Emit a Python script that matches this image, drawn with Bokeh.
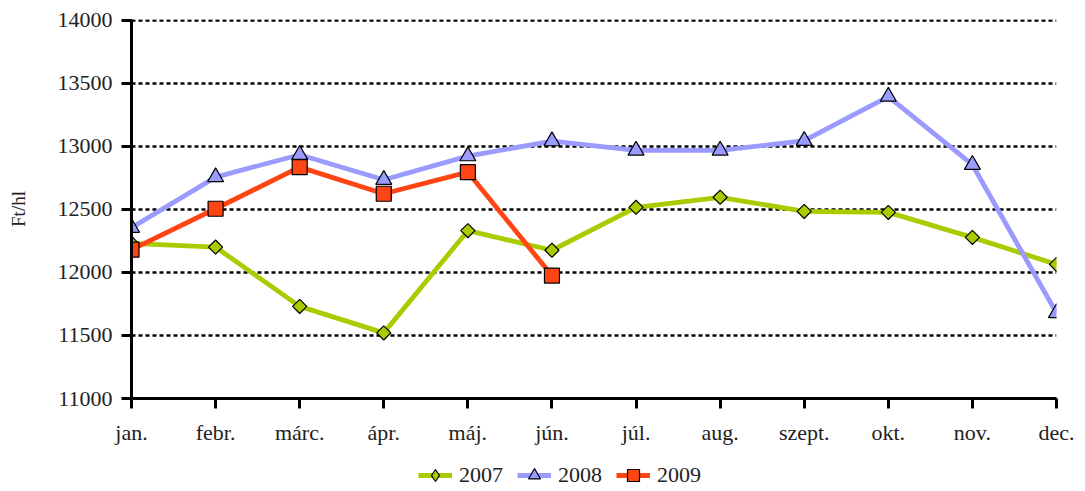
import numpy as np
from bokeh.plotting import figure
from bokeh.layouts import column
from bokeh.models import Legend, LegendItem, FixedTicker, Range1d
from bokeh.embed import file_html
from bokeh.resources import INLINE

months = ["jan.", "febr.", "márc.", "ápr.", "máj.", "jún.", "júl.", "aug.", "szept.", "okt.", "nov.", "dec."]
s2007 = [12230, 12200, 11730, 11520, 12330, 12175, 12515, 12595, 12483, 12475, 12277, 12063]
s2008 = [12354, 12755, 12932, 12734, 12921, 13040, 12966, 12966, 13043, 13393, 12853, 11678]
s2009 = [12180, 12504, 12834, 12623, 12794, 11974]
series_names = ["2007", "2008", "2009"]
yticks = [11000, 11500, 12000, 12500, 13000, 13500, 14000]

FONT = "Liberation Serif"
TXT = "#222222"
x_all = list(range(len(months)))
x9 = x_all[:len(s2009)]

W = 1080
p = figure(width=W, height=455, output_backend="svg", toolbar_location=None,
           x_range=Range1d(0, 11), y_range=Range1d(11000, 14004),
           min_border_left=131, min_border_top=19, min_border_right=W - 1056, min_border_bottom=57)
p.outline_line_color = None
p.background_fill_color = "white"
p.border_fill_color = "white"

# grid
p.xgrid.grid_line_color = None
p.ygrid.grid_line_color = "black"
p.ygrid.grid_line_dash = "4 3"
p.ygrid.grid_line_width = 2.5
p.ygrid.ticker = FixedTicker(ticks=yticks)

# axes
p.xaxis.ticker = FixedTicker(ticks=x_all)
p.xaxis.major_label_overrides = {i: m for i, m in enumerate(months)}
p.yaxis.ticker = FixedTicker(ticks=yticks)
for ax in (p.xaxis[0], p.yaxis[0]):
    ax.axis_line_width = 3
    ax.axis_line_color = "black"
    ax.major_tick_line_width = 3
    ax.major_tick_line_color = "black"
    ax.major_tick_out = 10
    ax.major_tick_in = 0
    ax.minor_tick_line_color = None
    ax.major_label_text_font = FONT
    ax.major_label_text_font_size = "22px"
    ax.major_label_text_color = TXT
p.xaxis.major_label_standoff = 11
p.yaxis.major_label_standoff = 9
p.yaxis.axis_label = "Ft/hl"
p.yaxis.axis_label_text_font = FONT
p.yaxis.axis_label_text_font_size = "19px"
p.yaxis.axis_label_text_font_style = "normal"
p.yaxis.axis_label_text_color = TXT
p.yaxis.axis_label_standoff = 26

c7, c8, c9 = "#A9CC00", "#9A9AFF", "#FF4514"
LW = 4.8
styles = [("square", 10, np.pi / 4), ("triangle", 16, 0), ("square", 15, 0)]
legend_markers = ["diamond", "triangle", "square"]
colors = [c7, c8, c9]
series = [(x_all, s2007), (x_all, s2008), (x9, s2009)]

for (xs, ys), col, (mk, sz, ang) in zip(series, colors, styles):
    p.line(xs, ys, line_color=col, line_width=LW)
    p.scatter(xs, ys, marker=mk, size=sz, angle=ang,
              fill_color=col, line_color="black", line_width=1.2)

# legend strip below the chart (its renderers reuse the series data,
# which lies outside this strip's range, so only the legend shows)
lf = figure(width=W, height=35, output_backend="svg", toolbar_location=None,
            x_range=Range1d(0, 11), y_range=Range1d(0, 1),
            min_border_left=0, min_border_right=0, min_border_top=0, min_border_bottom=0)
lf.outline_line_color = None
lf.axis.visible = False
lf.grid.visible = False
items = []
for name, (xs, ys), col, lmk in zip(series_names, series, colors, legend_markers):
    lr = lf.line(xs, ys, line_color=col, line_width=LW)
    mr = lf.scatter(xs, ys, marker=lmk, size=12,
                    fill_color=col, line_color="black", line_width=1.2)
    items.append(LegendItem(label=name, renderers=[lr, mr]))
legend = Legend(items=items, orientation="horizontal", location=(418 - 131, 0),
                border_line_color=None, background_fill_alpha=0,
                label_text_font=FONT, label_text_font_size="22px",
                label_text_color=TXT, label_height=30,
                glyph_width=34, glyph_height=30, spacing=14, label_standoff=7,
                padding=0, margin=0)
lf.add_layout(legend, "center")

layout = column(p, lf, spacing=0)
open("out.html", "w").write(file_html(layout, INLINE))
